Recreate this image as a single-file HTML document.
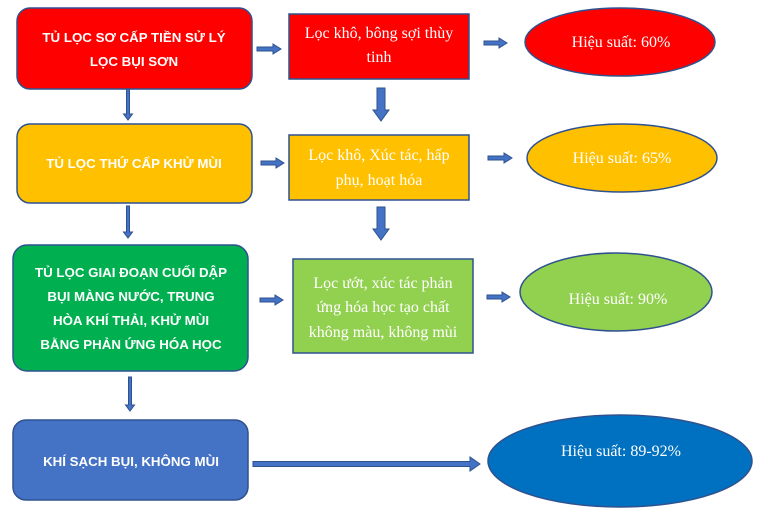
<!DOCTYPE html>
<html>
<head>
<meta charset="utf-8">
<style>
html,body{margin:0;padding:0;background:#fff;}
svg{display:block;}
.b{font-family:"Liberation Sans",sans-serif;font-weight:bold;font-size:13.3px;fill:#fff;}
.s{font-family:"Liberation Serif",serif;font-size:16px;fill:#fff;}
</style>
</head>
<body>
<svg width="770" height="513" viewBox="0 0 770 513" xmlns="http://www.w3.org/2000/svg">
<g stroke="#2F528F" stroke-width="1.5">
  <!-- left column -->
  <rect x="17" y="8" width="235" height="81" rx="13" fill="#FF0000"/>
  <rect x="17" y="124" width="235" height="79" rx="13" fill="#FFC000"/>
  <rect x="13" y="245" width="235" height="126" rx="14" fill="#00B050"/>
  <rect x="13" y="420" width="235" height="80" rx="13" fill="#4472C4"/>
  <!-- middle column -->
  <rect x="289" y="14" width="180" height="65" fill="#FF0000"/>
  <rect x="289" y="135" width="180" height="65" fill="#FFC000"/>
  <rect x="293" y="259" width="180" height="94" fill="#92D050"/>
  <!-- ellipses -->
  <ellipse cx="620" cy="42" rx="95" ry="34" fill="#FF0000"/>
  <ellipse cx="622" cy="158" rx="95" ry="34" fill="#FFC000"/>
  <ellipse cx="616" cy="292" rx="96" ry="39" fill="#92D050"/>
  <ellipse cx="620" cy="461" rx="132" ry="46" fill="#0070C0"/>
</g>

<g fill="#4472C4" stroke="#2F528F" stroke-width="1">
  <!-- small horizontal arrows -->
  <path d="M257,47 L273,47 L273,44 L281,49 L273,54 L273,51 L257,51 Z"/>
  <path d="M484,41 L499,41 L499,38 L507,43 L499,48 L499,45 L484,45 Z"/>
  <path d="M261,161 L276,161 L276,158 L284,163 L276,168 L276,165 L261,165 Z"/>
  <path d="M488,156 L504,156 L504,153 L512,158 L504,163 L504,160 L488,160 Z"/>
  <path d="M260,298 L275,298 L275,295 L283,300 L275,305 L275,302 L260,302 Z"/>
  <path d="M487,295 L502,295 L502,292 L510,297 L502,302 L502,299 L487,299 Z"/>
  <!-- long arrow -->
  <path d="M253,461.5 L470,461.5 L470,457 L480,464 L470,471 L470,466.5 L253,466.5 Z"/>
  <!-- thin vertical arrows -->
  <path d="M126.5,89 L129.5,89 L129.5,114 L132.5,114 L128,120 L123.5,114 L126.5,114 Z"/>
  <path d="M126.5,206 L129.5,206 L129.5,232 L132.5,232 L128,238 L123.5,232 L126.5,232 Z"/>
  <path d="M128.5,377 L131.5,377 L131.5,405 L134.5,405 L130,411 L125.5,405 L128.5,405 Z"/>
  <!-- thick vertical arrows -->
  <path d="M377,88 L385,88 L385,110 L389,110 L381,121 L373,110 L377,110 Z"/>
  <path d="M377,207 L385,207 L385,229 L389,229 L381,240 L373,229 L377,229 Z"/>
</g>

<!-- left texts -->
<text class="b" text-anchor="middle" x="134" y="42">TỦ LỌC SƠ CẤP TIỀN SỬ LÝ</text>
<text class="b" text-anchor="middle" x="134" y="66">LỌC BỤI SƠN</text>
<text class="b" text-anchor="middle" x="134" y="168">TỦ LỌC THỨ CẤP KHỬ MÙI</text>
<text class="b" text-anchor="middle" x="131" y="277">TỦ LỌC GIAI ĐOẠN CUỐI DẬP</text>
<text class="b" text-anchor="middle" x="131" y="301">BỤI MÀNG NƯỚC, TRUNG</text>
<text class="b" text-anchor="middle" x="131" y="325">HÒA KHÍ THẢI, KHỬ MÙI</text>
<text class="b" text-anchor="middle" x="131" y="349">BẰNG PHẢN ỨNG HÓA HỌC</text>
<text class="b" text-anchor="middle" x="131" y="466">KHÍ SẠCH BỤI, KHÔNG MÙI</text>

<!-- middle texts -->
<text class="s" text-anchor="middle" x="379" y="38">Lọc khô, bông sợi thùy</text>
<text class="s" text-anchor="middle" x="379" y="62">tinh</text>
<text class="s" text-anchor="middle" x="379" y="160">Lọc khô, Xúc tác, hấp</text>
<text class="s" text-anchor="middle" x="379" y="185">phụ, hoạt hóa</text>
<text class="s" text-anchor="middle" x="383" y="288">Lọc ướt, xúc tác phản</text>
<text class="s" text-anchor="middle" x="383" y="312">ứng hóa học tạo chất</text>
<text class="s" text-anchor="middle" x="383" y="337">không màu, không mùi</text>

<!-- ellipse texts -->
<text class="s" text-anchor="middle" x="621" y="47">Hiệu suất: 60%</text>
<text class="s" text-anchor="middle" x="622" y="163">Hiệu suất: 65%</text>
<text class="s" text-anchor="middle" x="618" y="304">Hiệu suất: 90%</text>
<text class="s" text-anchor="middle" x="621" y="456">Hiệu suất: 89-92%</text>
</svg>
</body>
</html>
